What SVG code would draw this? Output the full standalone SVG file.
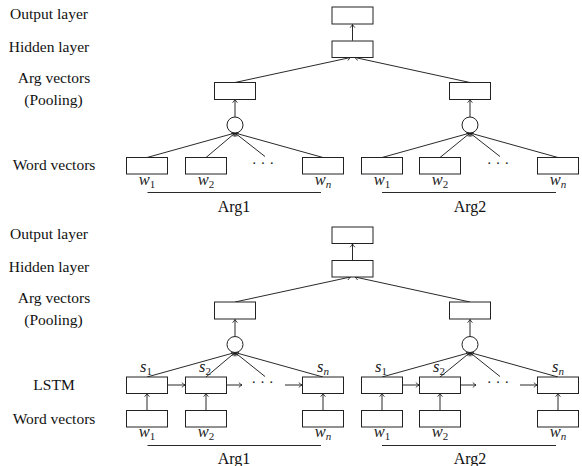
<svg xmlns="http://www.w3.org/2000/svg" width="582" height="466" viewBox="0 0 582 466">
<defs>
<marker id="ah" markerUnits="userSpaceOnUse" markerWidth="8" markerHeight="8" refX="0" refY="0" viewBox="-5 -4 6 8" orient="auto" overflow="visible">
<path d="M-3.2,-2.4 Q-1.2,-0.6 0,0 Q-1.2,0.6 -3.2,2.4" fill="none" stroke="#111" stroke-width="0.8"/>
</marker>
<style>
.bx{fill:#fff;stroke:#222;stroke-width:1}
.ci{fill:#fff;stroke:#222;stroke-width:1}
.ln{fill:none;stroke:#111;stroke-width:0.9}
.ar{fill:none;stroke:#111;stroke-width:0.9;marker-end:url(#ah)}
text{font-family:'Liberation Serif','Times New Roman','DejaVu Serif',serif}
.lb{font-size:15.5px;fill:#111;text-anchor:middle}
.ag{font-size:16px;fill:#111;text-anchor:middle}
.m{font-size:16.5px;fill:#222;text-anchor:middle;font-style:italic}
.sb{font-size:11px;font-style:normal}
.sbi{font-size:11px;font-style:italic}
.dt{font-size:15px;fill:#222;text-anchor:middle}
</style>
</defs>
<g id="labels">
<text class="lb" x="49" y="18.5">Output layer</text>
<text class="lb" x="49" y="51.5">Hidden layer</text>
<text class="lb" x="54" y="83">Arg vectors</text>
<text class="lb" x="53.5" y="105">(Pooling)</text>
<text class="lb" x="54" y="170">Word vectors</text>
<text class="lb" x="49" y="238.5">Output layer</text>
<text class="lb" x="49" y="271.5">Hidden layer</text>
<text class="lb" x="54" y="303">Arg vectors</text>
<text class="lb" x="53.5" y="325">(Pooling)</text>
<text class="lb" x="54" y="390">LSTM</text>
<text class="lb" x="54" y="423.5">Word vectors</text>
</g>
<g id="connectors">
<path class="ar" d="M352.5,40.7 L352.5,24.5"/>
<path class="ar" d="M235,82.5 L350.5,57.5"/>
<path class="ar" d="M470,82.5 L355,57.5"/>
<path class="ar" d="M235,117 L235,99.5"/>
<path class="ar" d="M147,157.5 L235,133"/>
<path class="ar" d="M206,157.5 L235,133"/>
<path class="ar" d="M265,156.5 L235,133"/>
<path class="ar" d="M323,157.5 L235,133"/>
<path class="ar" d="M470,117 L470,99.5"/>
<path class="ar" d="M382,157.5 L470,133"/>
<path class="ar" d="M440,157.5 L470,133"/>
<path class="ar" d="M500,156.5 L470,133"/>
<path class="ar" d="M558,157.5 L470,133"/>
<path class="ln" d="M147.5,192.5 L321,192.5"/>
<path class="ln" d="M382,192.5 L556,192.5"/>
<path class="ar" d="M352.5,260.5 L352.5,244"/>
<path class="ar" d="M235,302 L350.5,277"/>
<path class="ar" d="M470,302 L355,277"/>
<path class="ar" d="M235,336.5 L235,319.5"/>
<path class="ar" d="M147,377 L235,352.5"/>
<path class="ar" d="M206,377 L235,352.5"/>
<path class="ar" d="M265,376.5 L235,352.5"/>
<path class="ar" d="M323,377 L235,352.5"/>
<path class="ar" d="M470,336.5 L470,319.5"/>
<path class="ar" d="M382,377 L470,352.5"/>
<path class="ar" d="M440,377 L470,352.5"/>
<path class="ar" d="M500,376.5 L470,352.5"/>
<path class="ar" d="M558,377 L470,352.5"/>
<path class="ar" d="M147,410.5 L147,393.5"/>
<path class="ar" d="M206,410.5 L206,393.5"/>
<path class="ar" d="M323,410.5 L323,393.5"/>
<path class="ar" d="M382,410.5 L382,393.5"/>
<path class="ar" d="M440,410.5 L440,393.5"/>
<path class="ar" d="M558,410.5 L558,393.5"/>
<path class="ar" d="M167.5,385 L185,385"/>
<path class="ar" d="M226.5,385 L242,385"/>
<path class="ar" d="M285,385 L302,385"/>
<path class="ar" d="M402.5,385 L419,385"/>
<path class="ar" d="M460.5,385 L476,385"/>
<path class="ar" d="M520,385 L537,385"/>
<path class="ln" d="M147.5,445.5 L321,445.5"/>
<path class="ln" d="M382,445.5 L556,445.5"/>
</g>
<g id="out1"><rect class="bx" x="332" y="7" width="41" height="17"/></g>
<g id="hid1"><rect class="bx" x="332" y="41" width="41" height="16.5"/></g>
<g id="argA1"><rect class="bx" x="214.5" y="82.5" width="41" height="17"/></g>
<g id="argB1"><rect class="bx" x="449.5" y="82.5" width="41" height="17"/></g>
<g id="poolA1"><circle class="ci" cx="235" cy="125" r="8"/></g>
<g id="poolB1"><circle class="ci" cx="470" cy="125" r="8"/></g>
<g id="wA1_1"><rect class="bx" x="126.5" y="157.5" width="41" height="16.5"/><text class="m" x="147" y="184.5">w<tspan class="sb" dy="3">1</tspan></text></g>
<g id="wA2_1"><rect class="bx" x="185.5" y="157.5" width="41" height="16.5"/><text class="m" x="206" y="184.5">w<tspan class="sb" dy="3">2</tspan></text></g>
<g id="dotsA_1"><text class="dt" x="263" y="168">· · ·</text></g>
<g id="wAn_1"><rect class="bx" x="302.5" y="157.5" width="41" height="16.5"/><text class="m" x="323" y="184.5">w<tspan class="sbi" dy="3">n</tspan></text></g>
<g id="wB1_1"><rect class="bx" x="361.5" y="157.5" width="41" height="16.5"/><text class="m" x="382" y="184.5">w<tspan class="sb" dy="3">1</tspan></text></g>
<g id="wB2_1"><rect class="bx" x="419.5" y="157.5" width="41" height="16.5"/><text class="m" x="440" y="184.5">w<tspan class="sb" dy="3">2</tspan></text></g>
<g id="dotsB_1"><text class="dt" x="498" y="168">· · ·</text></g>
<g id="wBn_1"><rect class="bx" x="537.5" y="157.5" width="41" height="16.5"/><text class="m" x="558" y="184.5">w<tspan class="sbi" dy="3">n</tspan></text></g>
<g id="arg1_1"><text class="ag" x="234" y="211.5">Arg1</text></g>
<g id="arg2_1"><text class="ag" x="470" y="211.5">Arg2</text></g>
<g id="out2"><rect class="bx" x="332" y="227" width="41" height="16.5"/></g>
<g id="hid2"><rect class="bx" x="332" y="260.5" width="41" height="16.5"/></g>
<g id="argA2"><rect class="bx" x="214.5" y="302" width="41" height="17"/></g>
<g id="argB2"><rect class="bx" x="449.5" y="302" width="41" height="17"/></g>
<g id="poolA2"><circle class="ci" cx="235" cy="344.5" r="8"/></g>
<g id="poolB2"><circle class="ci" cx="470" cy="344.5" r="8"/></g>
<g id="sA1"><rect class="bx" x="126.5" y="377" width="41" height="16.5"/><text class="m" x="146" y="371.5">s<tspan class="sb" dy="3">1</tspan></text></g>
<g id="sA2"><rect class="bx" x="185.5" y="377" width="41" height="16.5"/><text class="m" x="205" y="371.5">s<tspan class="sb" dy="3">2</tspan></text></g>
<g id="dotsA_2"><text class="dt" x="262.5" y="387">· · ·</text></g>
<g id="sAn"><rect class="bx" x="302.5" y="377" width="41" height="16.5"/><text class="m" x="323" y="371.5">s<tspan class="sbi" dy="3">n</tspan></text></g>
<g id="sB1"><rect class="bx" x="361.5" y="377" width="41" height="16.5"/><text class="m" x="381" y="371.5">s<tspan class="sb" dy="3">1</tspan></text></g>
<g id="sB2"><rect class="bx" x="419.5" y="377" width="41" height="16.5"/><text class="m" x="439" y="371.5">s<tspan class="sb" dy="3">2</tspan></text></g>
<g id="dotsB_2"><text class="dt" x="498" y="387">· · ·</text></g>
<g id="sBn"><rect class="bx" x="537.5" y="377" width="41" height="16.5"/><text class="m" x="558" y="371.5">s<tspan class="sbi" dy="3">n</tspan></text></g>
<g id="wA1_2"><rect class="bx" x="126.5" y="410.5" width="41" height="16.5"/><text class="m" x="147" y="437">w<tspan class="sb" dy="3">1</tspan></text></g>
<g id="wA2_2"><rect class="bx" x="185.5" y="410.5" width="41" height="16.5"/><text class="m" x="206" y="437">w<tspan class="sb" dy="3">2</tspan></text></g>
<g id="wAn_2"><rect class="bx" x="302.5" y="410.5" width="41" height="16.5"/><text class="m" x="323" y="437">w<tspan class="sbi" dy="3">n</tspan></text></g>
<g id="wB1_2"><rect class="bx" x="361.5" y="410.5" width="41" height="16.5"/><text class="m" x="382" y="437">w<tspan class="sb" dy="3">1</tspan></text></g>
<g id="wB2_2"><rect class="bx" x="419.5" y="410.5" width="41" height="16.5"/><text class="m" x="440" y="437">w<tspan class="sb" dy="3">2</tspan></text></g>
<g id="wBn_2"><rect class="bx" x="537.5" y="410.5" width="41" height="16.5"/><text class="m" x="558" y="437">w<tspan class="sbi" dy="3">n</tspan></text></g>
<g id="arg1_2"><text class="ag" x="234" y="463.5">Arg1</text></g>
<g id="arg2_2"><text class="ag" x="470" y="463.5">Arg2</text></g>
</svg>
